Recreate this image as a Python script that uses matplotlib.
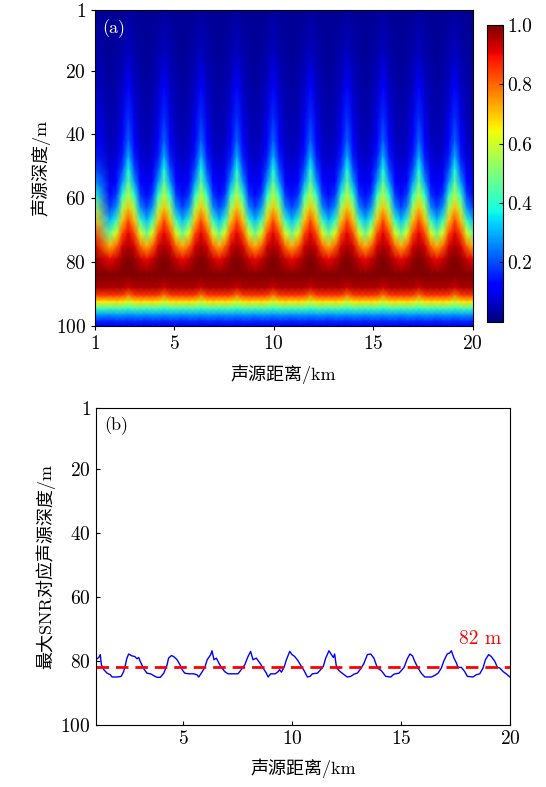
import numpy as np
import matplotlib
matplotlib.use("Agg")
import matplotlib.pyplot as plt

plt.rcParams["font.family"] = ["cmr10", "Noto Sans CJK SC"]
plt.rcParams["axes.formatter.use_mathtext"] = True
plt.rcParams["mathtext.fontset"] = "cm"

# ambiguity surface: depth samples and profile shapes across one interference period
depth_m = [1, 15, 25, 35, 42, 47, 51, 55, 59, 63, 67, 71, 75, 79, 84, 88,
           90.5, 92.5, 94.5, 96.5, 98.5, 100]
profile_peak = [0.03, 0.06, 0.11, 0.17, 0.22, 0.30, 0.38, 0.46, 0.57, 0.70, 0.83,
                0.91, 0.96, 1.00, 1.00, 0.93, 0.78, 0.60, 0.42, 0.27, 0.16, 0.10]
profile_flank_near = [0.02, 0.04, 0.06, 0.09, 0.12, 0.15, 0.20, 0.28, 0.40, 0.54, 0.70,
                      0.83, 0.92, 0.98, 1.00, 0.96, 0.84, 0.66, 0.44, 0.28, 0.17, 0.10]
profile_flank_far = [0.02, 0.03, 0.04, 0.05, 0.06, 0.08, 0.10, 0.13, 0.18, 0.27, 0.42,
                     0.62, 0.80, 0.93, 1.00, 0.96, 0.85, 0.67, 0.44, 0.28, 0.17, 0.10]
profile_trough = [0.02, 0.02, 0.03, 0.04, 0.05, 0.06, 0.08, 0.10, 0.13, 0.19, 0.31,
                  0.48, 0.72, 0.90, 1.00, 0.96, 0.85, 0.66, 0.43, 0.27, 0.16, 0.10]
flank_offsets_km = [0.3, 0.6]
peak_km = [2.68, 4.48, 6.34, 8.14, 9.97, 11.84, 13.69, 15.5, 17.3, 19.11]
trough_km = [1.75, 3.6, 5.4, 7.25, 9.05, 10.9, 12.75, 14.6, 16.4, 18.2, 20.0]

# depth of max SNR vs range
snr_range_km = [1.00, 1.14, 1.21, 1.26, 1.37, 1.52, 1.67, 1.75, 1.98, 2.17, 2.28, 2.36,
                2.43, 2.51, 2.66, 2.79, 2.89, 2.97, 3.04, 3.20, 3.35, 3.55, 3.66, 3.81,
                3.96, 4.12, 4.27, 4.34, 4.47, 4.57, 4.73, 4.88, 4.96, 5.08, 5.26, 5.49,
                5.64, 5.72, 5.84, 6.00, 6.11, 6.27, 6.33, 6.42, 6.53, 6.64, 6.76, 6.91,
                7.06, 7.52, 7.67, 7.83, 7.98, 8.10, 8.21, 8.36, 8.52, 8.67, 8.82, 8.90,
                9.02, 9.23, 9.36, 9.43, 9.51, 9.63, 9.74, 9.89, 10.00, 10.12, 10.27, 10.40,
                10.55, 10.70, 10.82, 10.93, 11.16, 11.31, 11.43, 11.54, 11.69, 11.80, 11.89,
                11.95, 12.04, 12.20, 12.35, 12.53, 12.69, 12.84, 12.99, 13.17, 13.30, 13.45,
                13.60, 13.75, 13.91, 14.09, 14.29, 14.52, 14.67, 14.90, 15.13, 15.28, 15.40,
                15.52, 15.62, 15.77, 15.92, 16.08, 16.38, 16.54, 16.69, 16.84, 16.96, 17.11,
                17.22, 17.30, 17.42, 17.53, 17.60, 17.76, 17.91, 18.03, 18.29, 18.44, 18.60,
                18.75, 18.86, 19.01, 19.13, 19.29, 19.41, 19.52, 19.67, 19.83, 20.00]
snr_depth_m = [79.6, 78.9, 78.0, 81.2, 82.7, 83.8, 84.3, 85.0, 85.0, 84.8, 83.3, 81.2,
               79.1, 77.8, 78.4, 78.6, 79.3, 78.9, 80.1, 82.4, 83.8, 84.1, 84.6, 85.1,
               85.1, 83.8, 81.2, 79.1, 78.3, 78.6, 79.6, 81.4, 82.7, 83.8, 84.0, 84.0,
               84.3, 85.0, 83.8, 82.0, 79.6, 78.0, 76.8, 79.6, 79.1, 80.6, 82.0, 83.3,
               84.0, 84.0, 82.7, 81.2, 78.6, 77.0, 79.6, 79.1, 80.6, 82.2, 83.8, 85.0,
               84.0, 84.0, 83.3, 82.7, 83.5, 82.0, 79.6, 77.0, 78.0, 78.6, 79.9, 81.4,
               83.0, 85.0, 84.8, 84.0, 83.8, 82.7, 81.7, 79.1, 76.8, 78.0, 78.9,
               77.8, 82.2, 83.3, 84.1, 85.0, 84.8, 84.1, 83.8, 82.2, 80.6, 78.0,
               77.8, 79.1, 82.2, 83.0, 84.8, 85.0, 84.1, 83.8, 82.0, 79.3, 77.8,
               78.4, 80.1, 82.2, 83.8, 85.0, 85.0, 84.5, 83.8, 82.2, 79.9, 77.8,
               77.5, 76.8, 79.1, 80.6, 82.0, 82.0, 83.3, 84.8, 85.0, 84.3, 84.0,
               82.2, 79.6, 78.0, 78.6, 80.1, 82.0, 82.2, 83.3, 84.1, 85.1]
mean_depth_m = 82

# lay out the surface columns: flank profile at the first range, then troughs, flanks, peaks
cols = [(1.0, profile_flank_near)]
cols += [(t, profile_trough) for t in trough_km]
for p in peak_km:
    cols.append((p, profile_peak))
    for off, prof in zip(flank_offsets_km, [profile_flank_near, profile_flank_far]):
        cols.append((p - off, prof))
        cols.append((p + off, prof))
cols.sort(key=lambda c: c[0])
range_grid = np.array([c[0] for c in cols])
surface = np.array([c[1] for c in cols]).T

fig = plt.figure(figsize=(5.46, 7.87), dpi=100)

# (a) normalised ambiguity surface
ax1 = fig.add_axes([0.174, 0.5858, 0.6914, 0.4015])
mesh = ax1.pcolormesh(range_grid, depth_m, surface, cmap="jet", vmin=0, vmax=1,
                      shading="gouraud", rasterized=True)
ax1.set_xlim(1, 20)
ax1.set_ylim(100, 1)
ax1.set_xticks([1, 5, 10, 15, 20])
ax1.set_yticks([1, 20, 40, 60, 80, 100])
ax1.tick_params(direction="out", length=3, labelsize=14)
ax1.set_xlabel("声源距离/km", fontsize=13, labelpad=8)
ax1.set_ylabel("声源深度/m", fontsize=13, labelpad=4)
ax1.text(0.02, 0.97, "(a)", transform=ax1.transAxes, color="white",
         fontsize=13, va="top", ha="left")

cax = fig.add_axes([0.8925, 0.5912, 0.0282, 0.377])
cb = fig.colorbar(mesh, cax=cax, ticks=[0.2, 0.4, 0.6, 0.8, 1.0])
cb.ax.set_yticklabels(["0.2", "0.4", "0.6", "0.8", "1.0"])
cb.ax.tick_params(direction="in", length=3, labelsize=14)

# (b) depth of the SNR maximum vs range
ax2 = fig.add_axes([0.1753, 0.0788, 0.7593, 0.4024])
ax2.plot(snr_range_km, snr_depth_m, color="blue", linewidth=1.0)
ax2.axhline(mean_depth_m, color="red", linestyle=(0, (4.5, 2.5)), linewidth=2)
ax2.text(18.6, 73, f"{mean_depth_m} m", color="red", fontsize=14, ha="center", va="center")
ax2.set_xlim(1, 20)
ax2.set_ylim(100, 1)
ax2.set_xticks([5, 10, 15, 20])
ax2.set_yticks([1, 20, 40, 60, 80, 100])
ax2.tick_params(direction="in", length=3, labelsize=14)
ax2.set_xlabel("声源距离/km", fontsize=13, labelpad=8)
ax2.set_ylabel("最大SNR对应声源深度/m", fontsize=13, labelpad=4)
ax2.text(0.02, 0.975, "(b)", transform=ax2.transAxes, color="black",
         fontsize=13, va="top", ha="left")

fig.savefig("out.png", dpi=100)
